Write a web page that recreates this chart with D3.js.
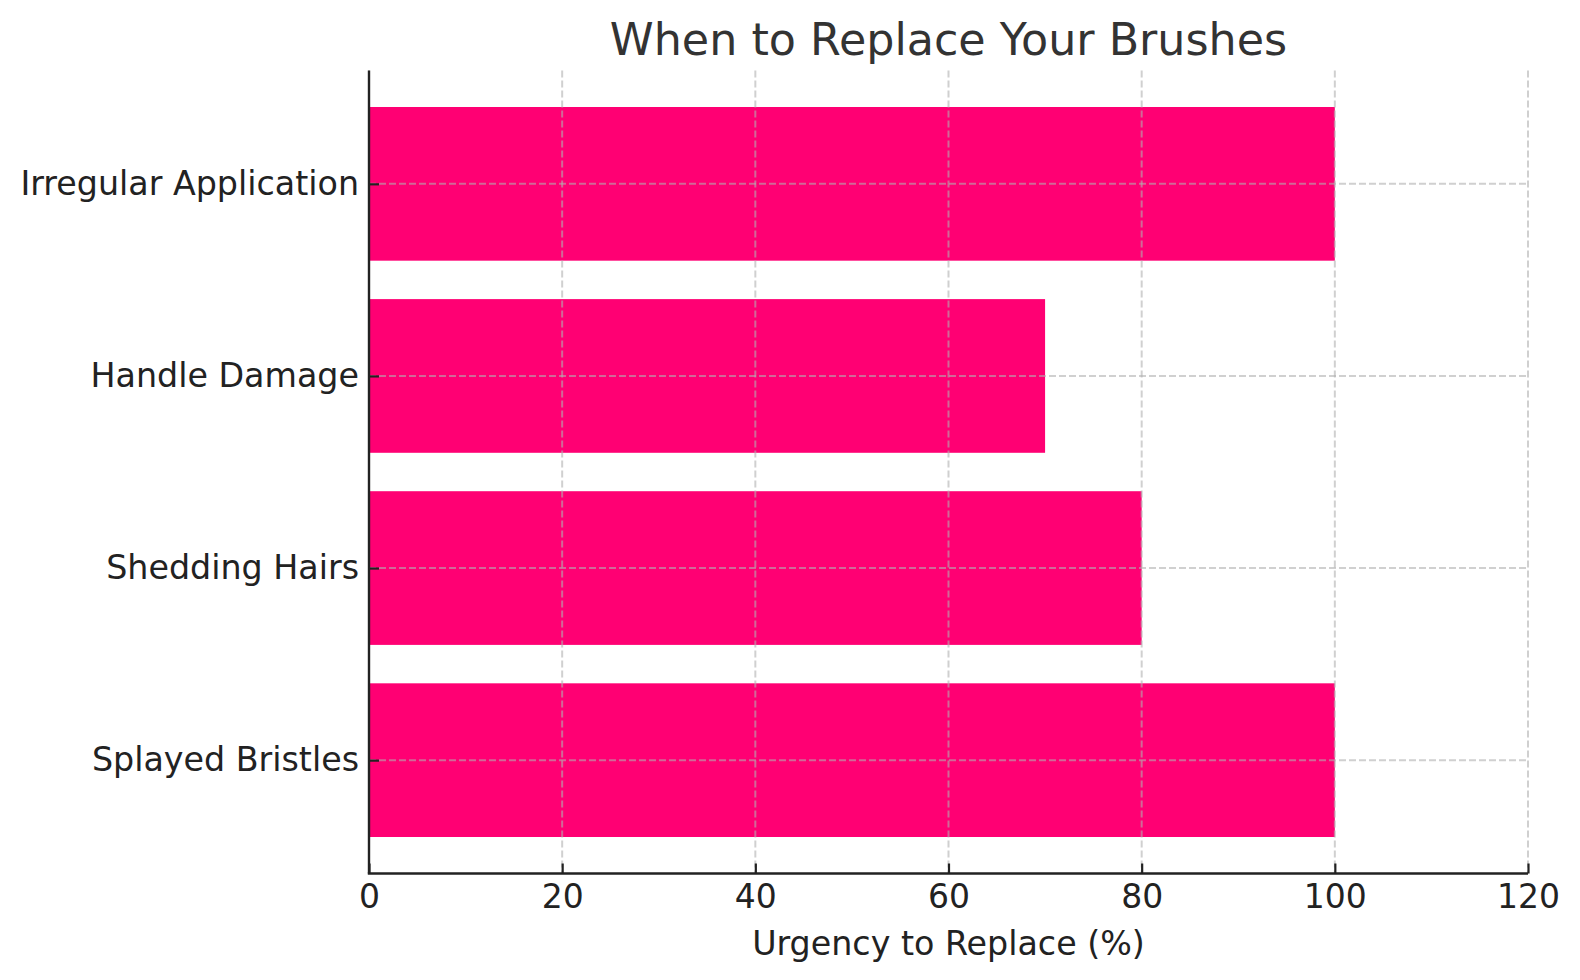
<!DOCTYPE html>
<html>
<head>
<meta charset="utf-8">
<script src="https://cdn.jsdelivr.net/npm/d3@7"></script>
<style>
  html, body { margin: 0; padding: 0; background: #fff; }
  svg { display: block; font-family: "DejaVu Sans", sans-serif; }
</style>
</head>
<body>
<div id="chart"></div>
<script>
const W = 1580, H = 980;

// data, bottom to top as drawn
const categories = ["Splayed Bristles", "Shedding Hairs", "Handle Damage", "Irregular Application"];
const urgency = [100, 80, 70, 100];
const xTicks = [0, 20, 40, 60, 80, 100, 120];

const titleText = "When to Replace Your Brushes";
const xLabelText = "Urgency to Replace (%)";

const plotLeft = 369, plotRight = 1528, plotTop = 70.5, plotBottom = 873.5;
const barColor = "#ff0073";
const barHeight = 0.8;

const svg = d3.select("#chart").append("svg").attr("width", W).attr("height", H);

const x = d3.scaleLinear().domain([0, 120]).range([plotLeft, plotRight]);
// matplotlib-style category axis with 5% margins
const y = d3.scaleLinear().domain([-0.59, categories.length - 1 + 0.59]).range([plotBottom, plotTop]);

// bars
svg.append("g").selectAll("rect")
    .data(urgency).enter().append("rect")
    .attr("x", x(0))
    .attr("y", (d, i) => y(i + barHeight / 2))
    .attr("width", d => x(d) - x(0))
    .attr("height", y(0) - y(barHeight))
    .attr("fill", barColor);

// grid drawn over the bars
const grid = svg.append("g")
    .attr("stroke", "#b0b0b0")
    .attr("stroke-opacity", 0.6)
    .attr("stroke-width", 2)
    .attr("stroke-dasharray", "7,3");
grid.selectAll(".gx").data(xTicks).enter().append("line")
    .attr("x1", d => x(d)).attr("x2", d => x(d))
    .attr("y1", plotTop).attr("y2", plotBottom);
grid.selectAll(".gy").data(categories).enter().append("line")
    .attr("y1", (d, i) => y(i)).attr("y2", (d, i) => y(i))
    .attr("x1", plotLeft).attr("x2", plotRight);

// x axis (ticks point inward)
const xAxis = svg.append("g")
    .attr("transform", `translate(0,${plotBottom})`)
    .call(d3.axisBottom(x).tickValues(xTicks).tickSizeInner(-10).tickSizeOuter(0).tickPadding(11));
xAxis.select(".domain").remove();
xAxis.selectAll(".tick line").attr("stroke", "#222").attr("stroke-width", 2.2);
xAxis.selectAll("text").attr("font-size", 33).attr("fill", "#222").attr("font-family", "DejaVu Sans");

// y axis
const yAxis = svg.append("g")
    .attr("transform", `translate(${plotLeft},0)`)
    .call(d3.axisLeft(y).tickValues(d3.range(categories.length)).tickFormat(i => categories[i])
        .tickSizeInner(-10).tickSizeOuter(0).tickPadding(10));
yAxis.select(".domain").remove();
yAxis.selectAll(".tick line").attr("stroke", "#222").attr("stroke-width", 2.2);
yAxis.selectAll("text").attr("font-size", 33.3).attr("fill", "#222").attr("font-family", "DejaVu Sans");

// spines: left and bottom only
svg.append("line").attr("x1", plotLeft).attr("x2", plotLeft).attr("y1", plotTop).attr("y2", plotBottom)
    .attr("stroke", "#222").attr("stroke-width", 2.4);
svg.append("line").attr("x1", plotLeft - 1.2).attr("x2", plotRight).attr("y1", plotBottom).attr("y2", plotBottom)
    .attr("stroke", "#222").attr("stroke-width", 2.4);

// title and axis label
svg.append("text")
    .attr("x", (plotLeft + plotRight) / 2).attr("y", 55)
    .attr("text-anchor", "middle")
    .attr("font-size", 44.4)
    .attr("fill", "#333")
    .text(titleText);

svg.append("text")
    .attr("x", (plotLeft + plotRight) / 2).attr("y", 955)
    .attr("text-anchor", "middle")
    .attr("font-size", 33.3)
    .attr("fill", "#222")
    .text(xLabelText);
</script>
</body>
</html>
